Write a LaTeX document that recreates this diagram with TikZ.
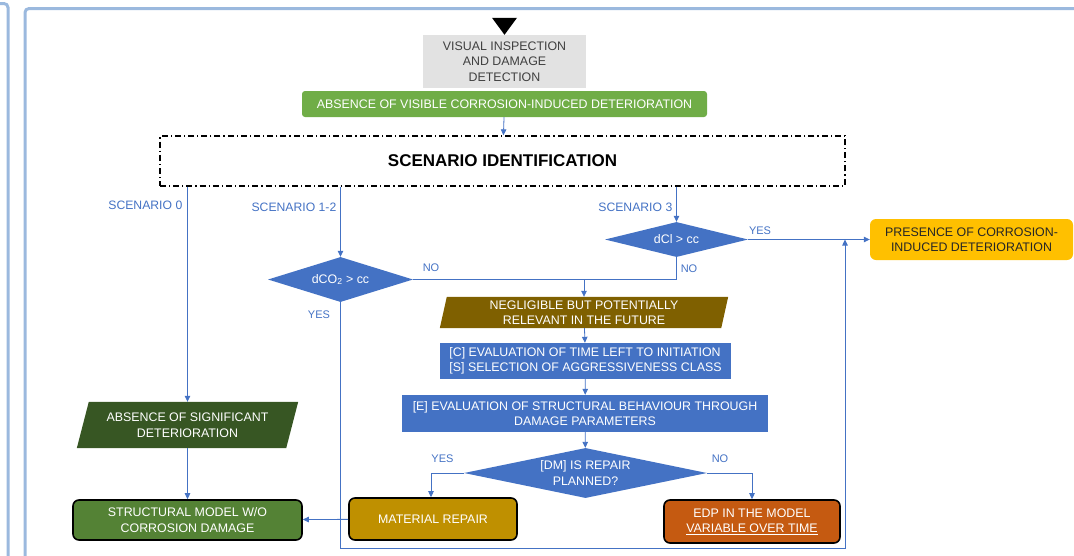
\documentclass[tikz,border=0pt]{standalone}
\usepackage{fontspec}
\setmainfont{Liberation Sans}
\usetikzlibrary{arrows.meta,shapes.geometric,backgrounds,calc}

\definecolor{frameblue}{RGB}{155,185,222}
\definecolor{lblue}{RGB}{68,114,196}
\definecolor{inspgray}{RGB}{226,226,226}
\definecolor{insptext}{RGB}{64,64,64}
\definecolor{visgreen}{RGB}{112,173,71}
\definecolor{negbrown}{RGB}{127,96,0}
\definecolor{absgreen}{RGB}{55,86,35}
\definecolor{strgreen}{RGB}{84,130,53}
\definecolor{repgold}{RGB}{191,144,0}
\definecolor{edporange}{RGB}{197,90,17}
\definecolor{presyellow}{RGB}{255,192,0}
\definecolor{darktext}{RGB}{38,38,38}

\newcommand{\boxfont}{\fontsize{12.4}{15.5}\selectfont}
\newcommand{\lblfont}{\fontsize{12.2}{14}\selectfont}
\newcommand{\yesfont}{\fontsize{11}{13}\selectfont}

\begin{document}
\begin{tikzpicture}[x=1pt,y=-1pt,
  conn/.style={draw=lblue, line width=0.8pt},
  arr/.style={conn, -{Triangle[length=6pt,width=5.5pt]}},
  flowbox/.style={rectangle, inner sep=2pt, align=center, text=white, font=\boxfont},
  termbox/.style={flowbox, draw=black, line width=1.6pt, rounded corners=6pt},
  decision/.style={diamond, fill=lblue, inner sep=0pt, align=center, text=white, font=\boxfont},
  lbl/.style={text=lblue, font=\lblfont, inner sep=0pt},
  yn/.style={text=lblue, font=\yesfont, inner sep=0pt},
  frame/.style={draw=frameblue, line width=3pt, rounded corners=4pt},
]
\useasboundingbox (0,0) rectangle (1074,555);
\clip (0,0) rectangle (1074,555);

% panel frames
\draw[frame] (-20,3.5) -- (8,3.5) -- (8,570);
\draw[frame] (25,570) -- (25,8.5) -- (1090,8.5);

% start of the procedure
\node[flowbox, fill=inspgray, text=insptext, minimum width=163pt, minimum height=53pt] (insp) at (504.5,61.5) {VISUAL INSPECTION\\AND DAMAGE\\DETECTION};
\fill ([xshift=-12.5pt,yshift=17pt]insp.north) -- ([xshift=12.5pt,yshift=17pt]insp.north) -- (insp.north) -- cycle;

\node[flowbox, fill=visgreen, rounded corners=3pt, minimum width=405pt, minimum height=26pt] (vis) at (504.5,104) {ABSENCE OF VISIBLE CORROSION-INDUCED DETERIORATION};

\node[rectangle, draw=black, line width=1.3pt, dash pattern=on 6pt off 3pt on 1.2pt off 3pt,
      minimum width=685pt, minimum height=50pt, font=\fontsize{17}{20}\selectfont\bfseries] (scen) at (502.5,161) {SCENARIO IDENTIFICATION};

% decisions
\node[decision, minimum width=145pt, minimum height=45pt, shape aspect=3.2] (dco) at (340.5,279.5) {dCO\textsubscript{2} > cc};
\node[decision, minimum width=143pt, minimum height=35pt, shape aspect=4] (dcl) at (676.5,239.5) {dCl > cc};
\node[decision, minimum width=243pt, minimum height=50pt, shape aspect=4.8] (dm) at (585.5,473) {[DM] IS REPAIR\\PLANNED?};

% slanted outcome boxes
\node[flowbox, inner sep=0pt, minimum width=288pt, minimum height=31pt] (neg) at (584,312.5) {NEGLIGIBLE BUT POTENTIALLY\\RELEVANT IN THE FUTURE};
\node[flowbox, inner sep=0pt, minimum width=221pt, minimum height=46pt] (abs) at (187.5,425) {ABSENCE OF SIGNIFICANT\\DETERIORATION};
\begin{scope}[on background layer]
  \fill[negbrown] ([xshift=7pt]neg.north west) -- (neg.north east) -- ([xshift=-7pt]neg.south east) -- (neg.south west) -- cycle;
  \fill[absgreen] ([xshift=12pt]abs.north west) -- (abs.north east) -- ([xshift=-12pt]abs.south east) -- (abs.south west) -- cycle;
\end{scope}

% evaluation steps
\node[flowbox, fill=lblue, align=left, minimum width=291pt, minimum height=36pt] (cs) at (585.5,361) {[C] EVALUATION OF TIME LEFT TO INITIATION\\{}[S] SELECTION OF AGGRESSIVENESS CLASS};
\node[flowbox, fill=lblue, minimum width=366pt, minimum height=37pt] (eval) at (585,413.5) {[E] EVALUATION OF STRUCTURAL BEHAVIOUR THROUGH\\DAMAGE PARAMETERS};

% terminal boxes
\node[termbox, fill=repgold, minimum width=168pt, minimum height=42pt] (rep) at (433,519) {MATERIAL REPAIR};
\node[termbox, fill=edporange, minimum width=176pt, minimum height=43pt] (edp) at (752,521.5) {EDP IN THE MODEL\\\underline{VARIABLE OVER TIME}};
\node[termbox, fill=strgreen, minimum width=229pt, minimum height=40pt] (stru) at (187.5,520) {STRUCTURAL MODEL W/O\\CORROSION DAMAGE};
\node[flowbox, fill=presyellow, text=darktext, rounded corners=6pt, minimum width=203pt, minimum height=41pt] (pres) at (971.5,239.5) {PRESENCE OF CORROSION-\\INDUCED DETERIORATION};

% connectors
\draw[arr] (vis) -- (scen);
\draw[arr] (scen.south -| abs.north) -- (abs.north);
\draw[arr] (scen.south -| dco.north) -- (dco.north);
\draw[arr] (scen.south -| dcl.north) -- (dcl.north);
\draw[conn] (dco.east) -- coordinate[pos=1] (join) (dco.east -| dcl.south) -- (dcl.south);
\draw[arr] (join -| neg.north) -- (neg.north);
\draw[arr] (neg) -- (cs);
\draw[arr] (cs) -- (eval);
\draw[arr] (eval) -- (dm);
\draw[arr] (dm.west) -- ([xshift=-2pt]dm.west -| rep.north) -- ([xshift=-2pt]rep.north);
\draw[arr] (dm.east) -- (dm.east -| edp.north) -- (edp.north);
\draw[arr] (rep) -- (stru);
\draw[arr] (abs) -- (stru);
\draw[arr] (dcl.east) -- (pres.west);
\coordinate (loop) at (845,548);
\draw[arr] (dco.south) -- (dco.south |- loop) -- (loop) -- (loop |- dcl.east);

% branch labels
\node[lbl, anchor=east] (l0) at (182.5,205) {SCENARIO 0};
\node[lbl, anchor=east] (l12) at (336.5,207) {SCENARIO 1-2};
\node[lbl, anchor=east] (l3) at (672.5,207) {SCENARIO 3};
\node[yn] (yco) at (319,315) {YES};
\node[yn] (nco) at (431,268) {NO};
\node[yn] (ncl) at (689,268.5) {NO};
\node[yn] (ycl) at (760,231) {YES};
\node[yn] (ydm) at (442.5,459) {YES};
\node[yn] (ndm) at (720,459) {NO};
\end{tikzpicture}
\end{document}
